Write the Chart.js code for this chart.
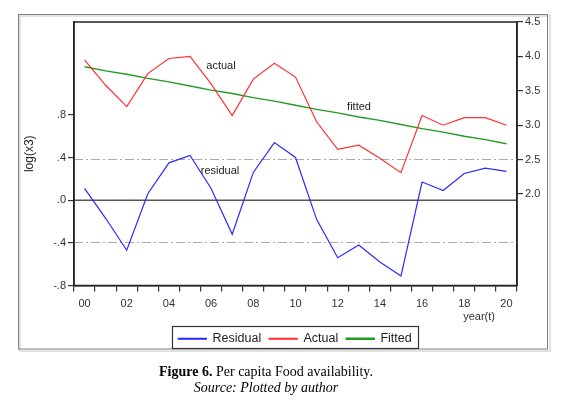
<!DOCTYPE html>
<html>
<head>
<meta charset="utf-8">
<script src="https://cdn.jsdelivr.net/npm/chart.js@4"></script>
<style>
  body { margin: 0; background: #fff; }
  #wrap { position: relative; width: 566px; height: 399px; }
  #cap {
    position: absolute; left: 0; top: 364px; width: 532px;
    text-align: center; font-family: "Liberation Serif", serif;
    font-size: 14px; line-height: 16px; color: #000;
  }
</style>
</head>
<body>
<div id="wrap">
  <canvas id="fitChart" width="566" height="399"></canvas>
  <div id="cap"><b>Figure 6.</b> Per capita Food availability.<br><i>Source: Plotted by author</i></div>
</div>
<script>
// years 2000..2020
var years = ['00', '01', '02', '03', '04', '05', '06', '07', '08', '09', '10',
             '11', '12', '13', '14', '15', '16', '17', '18', '19', '20'];

// left axis
var residual = [0.11, -0.17, -0.47, 0.06, 0.35, 0.42, 0.11, -0.32, 0.26, 0.54, 0.40,
                -0.18, -0.54, -0.42, -0.58, -0.71, 0.17, 0.09, 0.25, 0.30, 0.27];

// right axis
var actual = [3.95, 3.58, 3.27, 3.75, 3.97, 4.00, 3.60, 3.14, 3.67, 3.90, 3.70,
              3.05, 2.65, 2.71, 2.52, 2.31, 3.14, 3.00, 3.11, 3.11, 3.00];
var fitted = [3.85, 3.79, 3.74, 3.68, 3.63, 3.57, 3.51, 3.46, 3.40, 3.35, 3.29,
              3.23, 3.18, 3.12, 3.07, 3.01, 2.95, 2.90, 2.84, 2.79, 2.73];

var leftTicks = [-0.8, -0.4, 0, 0.4, 0.8];
var rightTicks = [2.0, 2.5, 3.0, 3.5, 4.0, 4.5];
var stdBand = 0.39;   // dashed lines = +/- 1 s.e. of residual

var tickFont = { family: 'Liberation Sans', size: 11 };

// frame, plot background, zero line and the dash-dot band
var framePlugin = {
    id: 'frame',
    afterLayout: function(chart) {
        // legend sits a bit right of centre in the original
        var lg = chart.legend;
        lg.left += 12;
        lg.right += 12;
        if (lg.adjustHitBoxes) lg.adjustHitBoxes();
    },
    beforeDraw: function(chart) {
        var ctx = chart.ctx;
        ctx.save();
        ctx.fillStyle = '#fff';
        ctx.fillRect(0, 0, chart.width, chart.height);
        ctx.strokeStyle = '#e2e2e2';
        ctx.lineWidth = 2;
        ctx.strokeRect(20, 16, 530, 335);
        ctx.strokeStyle = '#808080';
        ctx.lineWidth = 1;
        ctx.strokeRect(18.5, 14.5, 529, 334.5);
        ctx.restore();
    },
    beforeDatasetsDraw: function(chart) {
        var ctx = chart.ctx, a = chart.chartArea, y = chart.scales.y;
        ctx.save();
        ctx.strokeStyle = '#aaa';
        ctx.lineWidth = 1.2;
        ctx.setLineDash([9, 3, 2, 3]);
        [stdBand, -stdBand].forEach(function(v) {
            var py = Math.round(y.getPixelForValue(v)) + 0.5;
            ctx.beginPath(); ctx.moveTo(a.left, py); ctx.lineTo(a.right, py); ctx.stroke();
        });
        ctx.setLineDash([]);
        ctx.strokeStyle = '#555';
        ctx.lineWidth = 1.5;
        var p0 = y.getPixelForValue(0);
        ctx.beginPath(); ctx.moveTo(a.left, p0); ctx.lineTo(a.right, p0); ctx.stroke();
        ctx.restore();
    },
    afterDraw: function(chart) {
        var ctx = chart.ctx, a = chart.chartArea, lg = chart.legend;
        ctx.save();
        ctx.strokeStyle = '#222';
        ctx.lineWidth = 1.5;
        ctx.strokeRect(a.left, a.top, a.right - a.left, a.bottom - a.top);

        ctx.fillStyle = '#222';
        ctx.font = '11px "Liberation Sans"';
        ctx.textBaseline = 'middle';
        ctx.textAlign = 'center';
        ctx.fillText('actual', 221, 66);
        ctx.fillText('fitted', 359, 107);
        ctx.fillText('residual', 220, 171);
        ctx.textAlign = 'right';
        ctx.fillStyle = '#333';
        ctx.fillText('year(t)', 495, 317);

        // box round the legend
        var hb = lg.legendHitBoxes;
        if (hb && hb.length) {
            var x0 = hb[0].left - 6;
            var last = hb[hb.length - 1];
            var x1 = last.left + last.width + 7;
            var cy = lg.top + lg.height / 2;
            ctx.strokeStyle = '#333';
            ctx.lineWidth = 1.2;
            ctx.strokeRect(Math.round(x0) + 0.5, Math.round(cy - 14) + 0.5, Math.round(x1 - x0), 22);
        }
        ctx.restore();
    }
};

var ctx = document.getElementById('fitChart').getContext('2d');
var fitChart = new Chart(ctx, {
    type: 'line',
    data: {
        labels: years,
        datasets: [
            {
                label: 'Residual',
                data: residual,
                yAxisID: 'y',
                borderColor: '#2b2bff',
                backgroundColor: '#2b2bff',
                borderWidth: 1.2,
                pointRadius: 0,
                tension: 0
            },
            {
                label: 'Actual',
                data: actual,
                yAxisID: 'y1',
                borderColor: '#ff3030',
                backgroundColor: '#ff3030',
                borderWidth: 1.2,
                pointRadius: 0,
                tension: 0
            },
            {
                label: 'Fitted',
                data: fitted,
                yAxisID: 'y1',
                borderColor: '#239a23',
                backgroundColor: '#239a23',
                borderWidth: 1.4,
                pointRadius: 0,
                tension: 0
            }
        ]
    },
    options: {
        responsive: false,
        animation: false,
        layout: { padding: { top: 22, bottom: 44, left: 0, right: 0 } },
        scales: {
            x: {
                type: 'category',
                offset: true,
                grid: { offset: true, drawOnChartArea: false, tickLength: 6, color: '#333', lineWidth: 1.2 },
                border: { color: '#222', width: 1.5 },
                ticks: {
                    autoSkip: false,
                    maxRotation: 0,
                    padding: 6,
                    color: '#333',
                    font: tickFont,
                    callback: function(value, index) {
                        return index % 2 === 0 ? years[index] : '';
                    }
                },
                afterFit: function(scale) { scale.height = 39; }
            },
            y: {
                position: 'left',
                min: -0.8,
                max: 1.67,
                grid: { drawOnChartArea: false, tickLength: 6, color: '#333', lineWidth: 1.2 },
                border: { color: '#222', width: 1.5 },
                afterBuildTicks: function(scale) {
                    scale.ticks = leftTicks.map(function(v) { return { value: v }; });
                },
                ticks: {
                    padding: 2,
                    color: '#333',
                    font: tickFont,
                    callback: function(value) {
                        return value.toFixed(1).replace('0.', '.');
                    }
                },
                title: {
                    display: true,
                    text: 'log(x3)',
                    color: '#222',
                    font: { family: 'Liberation Sans', size: 12 },
                    padding: { top: 22, bottom: 0 }
                },
                afterFit: function(scale) { scale.width = 74; }
            },
            y1: {
                position: 'right',
                min: 0.67,
                max: 4.5,
                grid: { drawOnChartArea: false, tickLength: 6, color: '#333', lineWidth: 1.2 },
                border: { color: '#222', width: 1.5 },
                afterBuildTicks: function(scale) {
                    scale.ticks = rightTicks.map(function(v) { return { value: v }; });
                },
                ticks: {
                    padding: 2,
                    color: '#333',
                    font: tickFont,
                    callback: function(value) { return value.toFixed(1); }
                },
                afterFit: function(scale) { scale.width = 49; }
            }
        },
        plugins: {
            legend: {
                position: 'bottom',
                labels: {
                    boxWidth: 28,
                    boxHeight: 1,
                    padding: 8,
                    color: '#222',
                    font: { family: 'Liberation Sans', size: 12.5 }
                }
            },
            tooltip: { enabled: false }
        }
    },
    plugins: [framePlugin]
});
</script>
</body>
</html>
